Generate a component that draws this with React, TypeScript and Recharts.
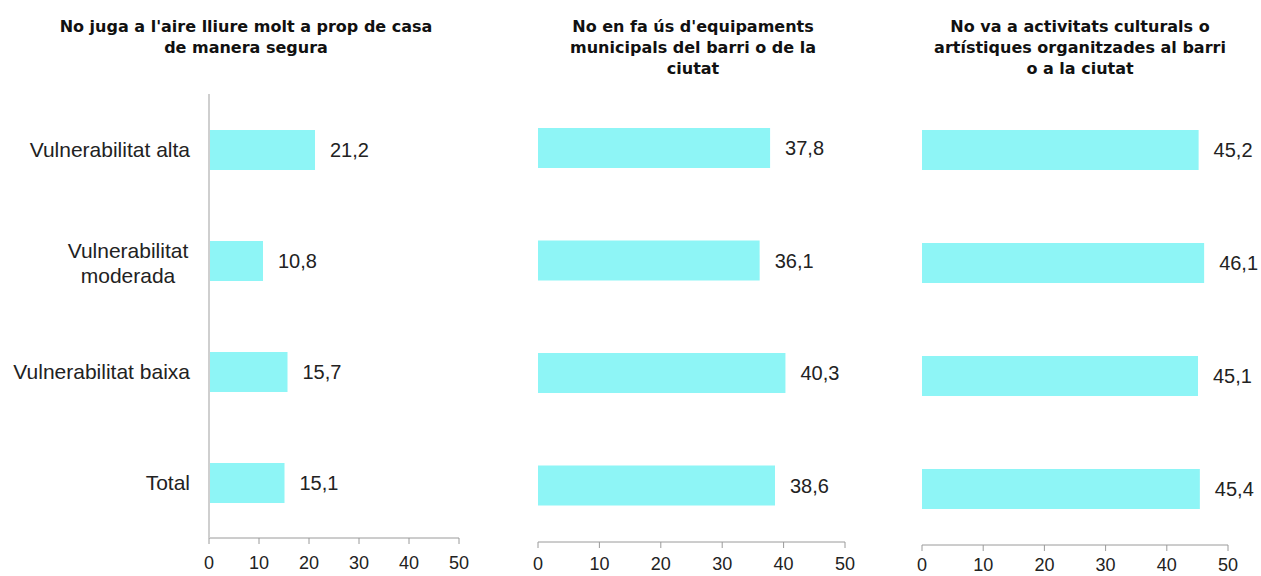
import React from 'react';
import { BarChart, Bar, XAxis, YAxis, LabelList } from 'recharts';

const categories = ['Vulnerabilitat alta', 'Vulnerabilitat moderada', 'Vulnerabilitat baixa', 'Total'];
const playOutside = [21.2, 10.8, 15.7, 15.1];
const municipalFacilities = [37.8, 36.1, 40.3, 38.6];
const culturalActivities = [45.2, 46.1, 45.1, 45.4];
const xTicks = [0, 10, 20, 30, 40, 50];

const titles = [
  ["No juga a l'aire lliure molt a prop de casa", 'de manera segura'],
  ["No en fa ús d'equipaments", 'municipals del barri o de la', 'ciutat'],
  ['No va a activitats culturals o', 'artístiques organitzades al barri', 'o a la ciutat'],
];

const BAR = '#8ef5f6';
const FONT = '"Liberation Sans", Arial, sans-serif';
const TITLE_FONT = '"DejaVu Sans", "Liberation Sans", sans-serif';

const toRows = (values: number[]) => categories.map((c, i) => ({ name: c, value: values[i] }));
const fmt = (v: any) => Number(v).toFixed(1).replace('.', ',');

const CategoryTick = ({ x, y, payload }: any) => {
  if (payload.value === 'Vulnerabilitat moderada') {
    return (
      <text x={x - 62} y={y} textAnchor="middle" fontSize={21} fill="#222" fontFamily={FONT}>
        <tspan x={x - 62} dy={-3}>Vulnerabilitat</tspan>
        <tspan x={x - 62} dy={25}>moderada</tspan>
      </text>
    );
  }
  return (
    <text x={x} y={y} dy={7} textAnchor="end" fontSize={21} fill="#222" fontFamily={FONT}>
      {payload.value}
    </text>
  );
};

type PanelProps = {
  values: number[];
  left: number;
  width: number;
  margin: { top: number; right: number; bottom: number; left: number };
  xHeight: number;
  tickMargin: number;
  showCategories?: boolean;
};

const Panel = ({ values, left, width, margin, xHeight, tickMargin, showCategories }: PanelProps) => (
  <div style={{ position: 'absolute', left, top: 0 }}>
    <BarChart width={width} height={576} data={toRows(values)} layout="vertical" margin={margin}>
      <XAxis
        type="number"
        domain={[0, 50]}
        ticks={xTicks}
        height={xHeight}
        stroke="#9a9a9a"
        tickSize={6}
        tickMargin={tickMargin}
        tick={{ fill: '#222', fontSize: 18, fontFamily: FONT }}
        interval={0}
      />
      {showCategories ? (
        <YAxis
          type="category"
          dataKey="name"
          width={209}
          axisLine={{ stroke: '#cfcfcf', strokeWidth: 2 }}
          tickLine={false}
          tickSize={0}
          tickMargin={19}
          tick={<CategoryTick />}
        />
      ) : (
        <YAxis type="category" dataKey="name" hide />
      )}
      <Bar dataKey="value" fill={BAR} barSize={40} isAnimationActive={false}>
        <LabelList
          dataKey="value"
          position="right"
          offset={15}
          formatter={fmt}
          style={{ fill: '#222', fontSize: 20, fontFamily: FONT }}
        />
      </Bar>
    </BarChart>
  </div>
);

const titleCenters = [246, 693, 1080];

export default function App() {
  return (
    <div style={{ position: 'absolute', left: 0, top: 0, width: 1261, height: 576, background: '#fff', overflow: 'hidden' }}>
      {titles.map((lines, i) => (
        <div
          key={i}
          style={{
            position: 'absolute',
            left: titleCenters[i] - 220,
            width: 440,
            top: 16,
            textAlign: 'center',
            fontFamily: TITLE_FONT,
            fontWeight: 'bold',
            fontSize: 16,
            lineHeight: '21px',
            color: '#111',
          }}
        >
          {lines.map((l, j) => (
            <div key={j}>{l}</div>
          ))}
        </div>
      ))}
      <Panel
        values={playOutside}
        left={0}
        width={480}
        margin={{ top: 94, right: 21, bottom: 0, left: 0 }}
        xHeight={38}
        tickMargin={12}
        showCategories
      />
      <Panel
        values={municipalFacilities}
        left={500}
        width={380}
        margin={{ top: 92, right: 35, bottom: 4, left: 38 }}
        xHeight={30}
        tickMargin={9}
      />
      <Panel
        values={culturalActivities}
        left={880}
        width={381}
        margin={{ top: 93, right: 33, bottom: 1, left: 42 }}
        xHeight={30}
        tickMargin={7}
      />
    </div>
  );
}
